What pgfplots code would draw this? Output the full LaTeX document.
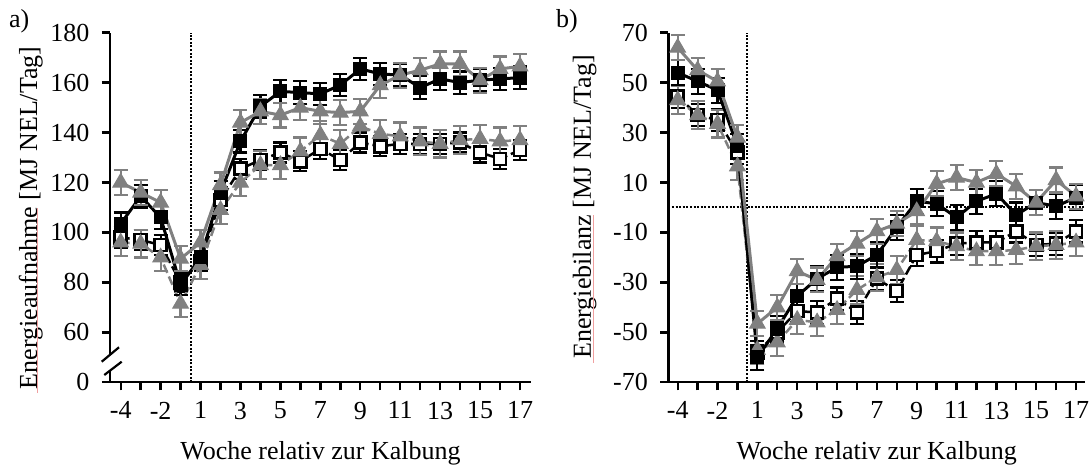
\documentclass[border=0pt]{standalone}
\usepackage{fontspec}
\setmainfont{Liberation Serif}
\usepackage{pgfplots}
\usepackage{pgfplotstable}
\pgfplotsset{compat=1.18}
\definecolor{gr}{RGB}{128,128,128}
\definecolor{spell}{RGB}{240,160,160}

% Left panel: Energieaufnahme (index 0..20 = Woche -4,-3,-2,-1,1,...,17)
\pgfplotstableread{
x y e
0 103.5 4.5
1 114.5 4.5
2 106 4.5
3 79 4
4 90 4.5
5 116 4.5
6 136.5 4.5
7 150.5 4.5
8 156.5 4.5
9 156 4.5
10 155.5 4.5
11 159 4.5
12 165.5 4.5
13 163.5 4.5
14 163 4.5
15 158 4.5
16 161.5 4.5
17 160 4.5
18 161 4.5
19 161.5 4.5
20 162 4.5
}\LA
\pgfplotstableread{
x y e
0 120 5
1 116 5
2 112 5
3 89.5 5
4 96 5
5 119 5
6 144 5
7 148.5 5
8 147 5
9 150 5
10 148.5 5
11 148 5
12 148.5 5
13 159 5
14 163 5
15 165 5
16 167.5 5
17 167.5 5
18 161 5
19 165.5 5
20 166.5 5
}\LB
\pgfplotstableread{
x y e
0 98 4
1 97 4
2 95 4
3 80 4
4 88.5 4
5 113 4
6 125.5 4
7 129 4
8 132 4
9 128.5 4
10 133.5 4
11 129 4
12 136 4
13 134.5 4
14 135.5 4
15 135.5 4
16 135.5 4
17 136 4
18 132 4
19 129.5 4
20 133 4
}\LC
\pgfplotstableread{
x y e
0 96 5.5
1 95.5 5.5
2 90 5.5
3 71.5 5.5
4 87 5.5
5 109 5.5
6 120 5.5
7 127 5.5
8 127 5.5
9 132.5 5.5
10 139 5.5
11 135.5 5.5
12 142.5 5.5
13 139.5 5.5
14 138.5 5.5
15 136.5 5.5
16 135.5 5.5
17 137 5.5
18 137.5 5.5
19 136.5 5.5
20 137 5.5
}\LD

% Right panel: Energiebilanz
\pgfplotstableread{
x y e
0 54 5
1 50.5 5
2 47 5
3 24.5 5
4 -60 5
5 -48.5 5
6 -35.5 5
7 -28.5 5
8 -24 5
9 -23.5 5
10 -19 5
11 -8 5
12 2.5 5
13 1.5 5
14 -4 5
15 2.5 5
16 5.5 5
17 -3 5
18 2 5
19 0.5 5
20 4 5
}\RA
\pgfplotstableread{
x y e
0 64 5
1 55 5
2 50.5 5
3 28 5
4 -46.5 5
5 -40 5
6 -25.5 5
7 -29 5
8 -19.5 5
9 -14.5 5
10 -9.5 5
11 -6.5 5
12 -1.5 5
13 9.5 5
14 12 5
15 10 5
16 13.5 5
17 8.5 5
18 2 5
19 11 5
20 4.5 5
}\RB
\pgfplotstableread{
x y e
0 44.5 4.5
1 37 4.5
2 35 4.5
3 22 4.5
4 -58 4.5
5 -50 4.5
6 -41.5 4.5
7 -42 4.5
8 -36.5 4.5
9 -42 4.5
10 -28.5 4.5
11 -33.5 4.5
12 -19 4.5
13 -17.5 4.5
14 -14.5 4.5
15 -14 4.5
16 -14 4.5
17 -9.5 4.5
18 -15 4.5
19 -14.5 4.5
20 -9.5 4.5
}\RC
\pgfplotstableread{
x y e
0 43 5.5
1 37 5.5
2 33.5 5.5
3 16.5 5.5
4 -57 5.5
5 -54 5.5
6 -45 5.5
7 -46 5.5
8 -41 5.5
9 -33 5.5
10 -28 5.5
11 -25 5.5
12 -13 5.5
13 -13.5 5.5
14 -15.5 5.5
15 -17.5 5.5
16 -17.5 5.5
17 -17 5.5
18 -15.5 5.5
19 -15 5.5
20 -14 5.5
}\RD

\newcommand{\bigfont}{\fontsize{26}{31}\selectfont}

\tikzset{refline/.style={black, line width=2pt, dash pattern=on 2pt off 1.6pt}}

\pgfplotsset{
  myaxis/.style={
    scale only axis, height=349.6pt,
    axis x line*=bottom, axis y line*=left,
    axis line style={line width=2.4pt, -},
    every tick/.style={line width=2.4pt, black},
    major tick length=8pt,
    tick align=outside,
    xtick={0,...,20},
    xticklabels={-4,,-2,,1,,3,,5,,7,,9,,11,,13,,15,,17},
    tick label style={font=\bigfont},
    xticklabel style={yshift=-8pt},
    yticklabel style={xshift=-9pt},
    label style={font=\bigfont},
    clip=false,
    xlabel={Woche relativ zur Kalbung},
    xlabel style={at={(axis description cs:0.5,-0.222)}, anchor=base},
  },
  eb/.style={error bars/.cd, y dir=both, y explicit,
    error bar style={line width=2.2pt, #1, solid},
    error mark options={rotate=90, mark size=7pt, line width=2.2pt, #1, solid}},
  sA/.style={black, line width=3pt, mark=square*, mark size=6.5pt,
    mark options={solid, fill=black, line width=1pt}, eb=black},
  sB/.style={gr, line width=3pt, mark=triangle*, mark size=9pt,
    mark options={solid, fill=gr, line width=1pt}, eb=gr},
  sC/.style={black, line width=2.5pt, dash pattern=on 9pt off 4pt, mark=square*, mark size=6pt,
    mark options={solid, fill=white, draw=black, line width=2.6pt}, eb=black},
  sD/.style={gr, line width=2.5pt, dash pattern=on 9pt off 4pt, mark=triangle*, mark size=9pt,
    mark options={solid, fill=gr, line width=1pt}, eb=gr},
}

\begin{document}
\begin{tikzpicture}
\useasboundingbox (0,0) rectangle (1090pt,465pt);

\begin{axis}[myaxis, at={(110pt,82.7pt)}, anchor=south west, width=421pt,
  xmin=-0.536, xmax=20.55, ymin=40, ymax=180,
  ytick={40,60,...,180}, yticklabels={0,60,80,100,120,140,160,180},
  ylabel={Energieaufnahme [MJ NEL/Tag]},
  ylabel style={at={(axis description cs:-0.188,0.47)}, anchor=center},
]
\draw[refline] (axis cs:3.5,40) -- (axis cs:3.5,180);
\addplot[sC] table[x=x,y=y,y error=e] {\LC};
\addplot[sD] table[x=x,y=y,y error=e] {\LD};
\addplot[sA] table[x=x,y=y,y error=e] {\LA};
\addplot[sB] table[x=x,y=y,y error=e] {\LB};
\end{axis}

% axis break marks
\fill[white] (101.7pt,103.3pt) -- (119pt,117.7pt) -- (121.7pt,103.3pt) -- (104.3pt,90pt) -- cycle;
\draw[black, line width=2.2pt] (101.7pt,103.3pt) -- (119pt,117.7pt);
\draw[black, line width=2.2pt] (104.3pt,90pt) -- (121.7pt,103.3pt);

\begin{axis}[myaxis, at={(668.3pt,82.7pt)}, anchor=south west, width=416.7pt,
  xmin=-0.472, xmax=20.45, ymin=-70, ymax=70,
  ytick={-70,-50,...,70}, yticklabels={-70,-50,-30,-10,10,30,50,70},
  ylabel={Energiebilanz [MJ NEL/Tag]},
  ylabel style={at={(axis description cs:-0.201,0.502)}, anchor=center},
]
\draw[refline] (axis cs:3.5,-70) -- (axis cs:3.5,70);
\draw[refline] (axis cs:-0.472,0) -- (axis cs:20.45,0);
\addplot[sC] table[x=x,y=y,y error=e] {\RC};
\addplot[sD] table[x=x,y=y,y error=e] {\RD};
\addplot[sA] table[x=x,y=y,y error=e] {\RA};
\addplot[sB] table[x=x,y=y,y error=e] {\RB};
\end{axis}

% spell-check underlines as in the reference
\draw[spell, line width=1pt] (37.5pt,72pt) -- (37.5pt,257pt);
\draw[spell, line width=1pt] (593pt,102pt) -- (593pt,250pt);

\node[anchor=base west, font=\bigfont, inner sep=0pt] at (9pt,437pt) {a)};
\node[anchor=base west, font=\bigfont, inner sep=0pt] at (556pt,437pt) {b)};
\end{tikzpicture}
\end{document}
